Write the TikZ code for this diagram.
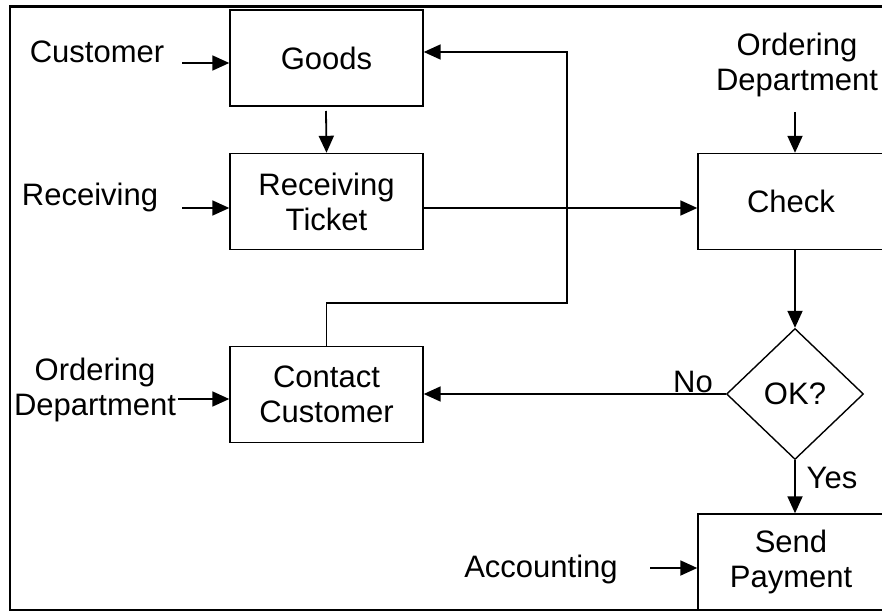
\documentclass[tikz,border=0pt]{standalone}
\usepackage{fontspec}
\setmainfont{Liberation Sans}
\usetikzlibrary{arrows.meta,shapes.geometric}
\begin{document}
\begin{tikzpicture}[x=1pt,y=-1pt,
  box/.style={draw,line width=1.4pt,minimum width=193pt,minimum height=96pt,inner sep=0pt,align=center},
  wbox/.style={draw,line width=1.4pt,minimum width=186pt,minimum height=96pt,inner sep=0pt,align=center},
  lbl/.style={inner sep=0pt,align=center},
  arr/.style={line width=1.8pt,-{Triangle[length=17pt,width=15pt]}},
  ln/.style={line width=1.8pt}]
\useasboundingbox (0,0) rectangle (882,612);
\fontsize{31}{35}\selectfont
% frame
\draw[line width=3pt] (9,7) -- (884,7);
\draw[line width=1.5pt] (10,6) -- (10,611);
\draw[line width=2.5pt] (9,610) -- (884,610);
% boxes
\node[box] (goods) at (326.5,58) {Goods};
\node[box] (ticket) at (326.5,201.5) {Receiving\\Ticket};
\node[box] (contact) at (326.5,394.5) {Contact\\Customer};
\node[wbox] (check) at (791,201.5) {Check};
\node[wbox] (pay) at (791,562) {Send\\Payment};
\node[draw,diamond,line width=1.4pt,minimum width=137pt,minimum height=131pt,inner sep=0pt] (dia) at (795,394) {OK?};
% labels
\node[lbl] (cust) at (97,52) {Customer};
\node[lbl] (recv) at (90,197) {Receiving};
\node[lbl] (ordl) at (95,390) {Ordering\\Department};
\node[lbl] (ordt) at (797,65) {Ordering\\Department};
\node[lbl] (acct) at (541,569) {Accounting};
\node[lbl] (no) at (693,382) {No};
\node[lbl] (yes) at (832,478) {Yes};
% free ends
\coordinate (c1) at (182,63);
\coordinate (c2) at (182,208);
\coordinate (c3) at (178,399);
\coordinate (c4) at (650,568);
\coordinate (c5) at (795,112);
\coordinate (g1) at (326,111);
\coordinate (fb1) at (567,303);
\coordinate (fb2) at (567,52);
% connectors
\draw[arr] (c1) -- (c1 -| goods.west);
\draw[arr] (c2) -- (c2 -| ticket.west);
\draw[arr] (c3) -- (c3 -| contact.west);
\draw[arr] (c4) -- (c4 -| pay.west);
\draw[arr] (c5) -- (c5 |- check.north);
\draw[arr] (g1) -- (ticket.north);
\draw[arr] (ticket.east |- c2) -- (c2 -| check.west);
\draw[arr] (dia.north |- check.south) -- (dia.north);
\draw[arr] (dia.south) -- (dia.south |- pay.north);
\draw[arr] (dia.west) -- (dia.west -| contact.east);
\draw[arr] (contact.north) |- (fb1) -- (fb2) -- (fb2 -| goods.east);
\end{tikzpicture}
\end{document}
